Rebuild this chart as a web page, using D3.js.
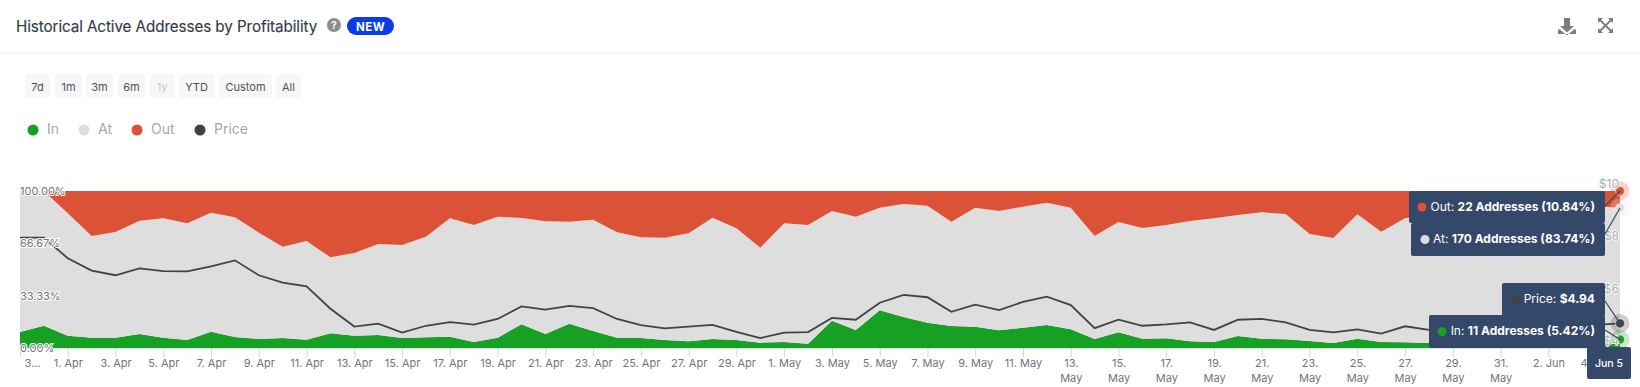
<!DOCTYPE html>
<html>
<head>
<meta charset="utf-8">
<script src="https://cdn.jsdelivr.net/npm/d3@7"></script>
<style>
  html, body { margin: 0; padding: 0; background: #fff; overflow: hidden; }
  svg { display: block; font-family: Inter, "Noto Sans", sans-serif; }
</style>
</head>
<body>
<div id="chart"></div>
<script>
// values, one entry per day from 30 Mar to 5 Jun
const inPct = [10.19,14.23,7.86,6.58,6.58,8.92,6.58,5.10,10.40,7.01,5.73,6.37,5.31,9.34,7.86,8.28,6.37,6.79,7.22,3.82,6.58,15.07,8.92,15.50,10.83,6.58,6.37,5.10,4.25,5.73,5.10,3.40,3.82,2.76,17.41,11.46,23.99,19.75,16.14,14.01,13.59,11.25,12.95,14.65,11.89,5.73,9.98,5.94,6.16,4.25,3.82,7.64,5.94,5.52,4.46,3.18,5.94,3.82,3.61,3.18,2.97,2.76,2.97,2.97,3.18,3.40,3.82,5.42]
const atPct = [89.81,85.77,77.91,64.76,67.31,72.18,76.01,74.31,75.80,76.22,67.73,58.17,62.84,48.41,52.65,57.96,59.24,64.12,75.37,74.52,77.07,67.73,71.76,64.97,70.91,67.09,64.12,65.18,68.79,77.28,71.12,60.51,75.59,75.58,69.85,72.19,65.39,71.97,74.52,66.46,75.79,76.01,77.07,77.92,77.49,65.61,70.27,70.49,72.18,76.64,78.77,77.07,80.47,79.83,68.15,66.88,79.20,70.28,78.98,81.53,83.23,83.01,83.87,84.93,82.59,83.44,86.63,83.74]
const outPct = [0,0,14.23,28.66,26.11,18.90,17.41,20.59,13.80,16.77,26.54,35.46,31.85,42.25,39.49,33.76,34.39,29.09,17.41,21.66,16.35,17.20,19.32,19.53,18.26,26.33,29.51,29.72,26.96,16.99,23.78,36.09,20.59,21.66,12.74,16.35,10.62,8.28,9.34,19.53,10.62,12.74,9.98,7.43,10.62,28.66,19.75,23.57,21.66,19.11,17.41,15.29,13.59,14.65,27.39,29.94,14.86,25.90,17.41,15.29,13.80,14.23,13.16,12.10,14.23,13.16,9.55,10.84]
const price = [8.22,8.22,7.43,6.96,6.78,7.04,6.94,6.93,7.12,7.35,6.78,6.50,6.36,5.50,4.82,4.93,4.59,4.85,4.99,4.89,5.11,5.59,5.47,5.61,5.52,5.11,4.87,4.75,4.82,4.88,4.62,4.38,4.59,4.61,5.15,5.08,5.73,6.03,5.94,5.38,5.66,5.45,5.76,5.96,5.64,4.76,5.08,4.85,4.90,4.98,4.69,5.08,5.11,4.98,4.69,4.60,4.71,4.55,4.83,4.69,4.61,4.56,4.59,4.69,4.71,4.79,4.88,4.94]

const tickDays = ['03-30','04-01','04-03','04-05','04-07','04-09','04-11','04-13','04-15','04-17','04-19','04-21','04-23','04-25','04-27','04-29','05-01','05-03','05-05','05-07','05-09','05-11','05-13','05-15','05-17','05-19','05-21','05-23','05-25','05-27','05-29','05-31','06-02','06-04']
const tickLabels = ['3...','1. Apr','3. Apr','5. Apr','7. Apr','9. Apr','11. Apr','13. Apr','15. Apr','17. Apr','19. Apr','21. Apr','23. Apr','25. Apr','27. Apr','29. Apr','1. May','3. May','5. May','7. May','9. May','11. May','13.|May','15.|May','17.|May','19.|May','21.|May','23.|May','25.|May','27.|May','29.|May','31.|May','2. Jun','4. Jun']
const pctTicks = [0, 33.33, 66.67, 100]
const priceTicks = [4, 6, 8, 10]
const rangeButtons = ['7d','1m','3m','6m','1y','YTD','Custom','All']
const legendNames = ['In','At','Out','Price']

const colors = {In: '#16a024', At: '#dedede', Out: '#db5237', Price: '#3f4347'}
const tipColor = '#34496a'

let width = 1640, height = 387
let margin = {top: 191, right: 20, bottom: 39, left: 20}
let innerBottom = height - margin.bottom
let innerRight = width - margin.right

const svg = d3.select('#chart').append('svg')
  .attr('width', width)
  .attr('height', height)

let parseDay = d3.utcParse('%Y-%m-%d')
let dates = d3.utcDay.range(parseDay('2024-03-30'), parseDay('2024-06-06'))

let xScale = d3.scaleUtc().domain(d3.extent(dates)).range([margin.left, innerRight])
let yScale = d3.scaleLinear().domain([0, 100]).range([innerBottom, margin.top])
let priceScale = d3.scaleLinear().domain([4, 10]).range([innerBottom, margin.top])

// header
svg.append('text').attr('x', 16).attr('y', 32)
  .attr('font-size', 15.2).attr('fill', '#333c47').attr('font-weight', 400)
  .attr('letter-spacing', -0.08).attr('stroke', '#333c47').attr('stroke-width', 0.15)
  .text('Historical Active Addresses by Profitability')
svg.append('circle').attr('cx', 334).attr('cy', 25).attr('r', 7).attr('fill', '#8c8c8c')
svg.append('text').attr('x', 334).attr('y', 29).attr('text-anchor', 'middle')
  .attr('font-size', 10.5).attr('font-weight', 700).attr('fill', '#fff').text('?')
svg.append('rect').attr('x', 347).attr('y', 17).attr('width', 47).attr('height', 18).attr('rx', 9).attr('fill', '#0a3ce8')
svg.append('text').attr('x', 370.5).attr('y', 30.5).attr('text-anchor', 'middle')
  .attr('font-size', 11.5).attr('font-weight', 700).attr('letter-spacing', 0.5).attr('fill', '#fff').text('NEW')
svg.append('line').attr('x1', 0).attr('x2', width).attr('y1', 53).attr('y2', 53).attr('stroke', '#e9e9e9')

// download + fullscreen icons
svg.append('path').attr('fill', '#7d7d7d')
  .attr('d', 'M1564 18h6v8h4l-7 6.5-7-6.5h4zM1560 29.500l7 6 7-6h2v4.500h-18v-4.500z')
let expand = svg.append('g').attr('stroke', '#7d7d7d').attr('stroke-width', 1.8).attr('fill', 'none')
expand.append('path').attr('d', 'M1600 20l11 11M1611 20l-11 11')
svg.append('path').attr('fill', '#7d7d7d')
  .attr('d', 'M1598 18h5l-5 5zM1613 18v5l-5-5zM1598 33v-5l5 5zM1613 33h-5l5-5z')

// range buttons
let btnX = [25, 55, 86, 118, 150, 179, 219, 276]
let btnW = [25, 27, 27, 27, 24, 35, 53, 25]
const btn = svg.selectAll('.btn').data(rangeButtons).enter().append('g').attr('class', 'btn')
btn.append('rect')
  .attr('x', (d, i) => btnX[i]).attr('y', 74).attr('width', (d, i) => btnW[i]).attr('height', 24)
  .attr('rx', 3).attr('fill', '#f7f7f7')
btn.append('text')
  .attr('x', (d, i) => btnX[i] + btnW[i] / 2).attr('y', 91).attr('text-anchor', 'middle')
  .attr('font-size', 11).attr('fill', d => d == '1y' ? '#c9c9c9' : '#4d535a').text(d => d)

// legend
let legX = [33, 84, 137, 200]
const leg = svg.selectAll('.leg').data(legendNames).enter().append('g').attr('class', 'leg')
leg.append('circle').attr('cx', (d, i) => legX[i]).attr('cy', 130).attr('r', 5.5).attr('fill', d => colors[d])
leg.append('text').attr('x', (d, i) => legX[i] + 14).attr('y', 134).attr('font-size', 14).attr('fill', '#a3a7ab').text(d => d)

// stacked areas
let rows = dates.map((d, i) => ({date: d, In: inPct[i], At: atPct[i], Out: outPct[i]}))
let stacked = d3.stack().keys(['In', 'At', 'Out'])(rows)
let area = d3.area().x(d => xScale(d.data.date)).y0(d => yScale(d[0])).y1(d => yScale(d[1]))

svg.selectAll('.layer').data(stacked).enter().append('path')
  .attr('class', 'layer')
  .attr('fill', d => colors[d.key])
  .attr('d', area)

// price line
let priceLine = d3.line().x((d, i) => xScale(dates[i])).y(d => priceScale(d))
svg.append('path').datum(price)
  .attr('fill', 'none').attr('stroke', colors.Price).attr('stroke-width', 1.8)
  .attr('d', priceLine)

// x axis
let xAxis = d3.axisBottom(xScale)
  .tickValues(tickDays.map(d => parseDay('2024-' + d)))
  .tickSize(9).tickPadding(0)
  .tickFormat((d, i) => tickLabels[i])
let gXAxis = svg.append('g').attr('transform', `translate(0,${innerBottom})`).call(xAxis)
gXAxis.select('.domain').attr('stroke', '#e3e3e3')
gXAxis.selectAll('.tick line').attr('stroke', '#d5d5d5')
gXAxis.selectAll('.tick text').each(function (d, i) {
  let parts = tickLabels[i].split('|')
  let t = d3.select(this).text(null)
    .attr('font-family', 'Inter, "Noto Sans", sans-serif')
    .attr('font-size', 11).attr('fill', '#6f757b')
  t.attr('y', 19)
  parts.forEach((p, j) => t.append('tspan').attr('x', i == 0 ? 12 : 0).attr('dy', j ? 14.5 : 0).text(p))
})

// y labels, with the white outline the picture has
svg.selectAll('.pct').data(pctTicks).enter().append('text')
  .attr('x', 20).attr('y', d => yScale(d) + 4)
  .attr('font-size', 11).attr('fill', '#6f757b')
  .attr('stroke', '#fff').attr('stroke-width', 2).attr('paint-order', 'stroke')
  .text(d => d.toFixed(2) + '%')

// hover markers on the last day
let last = dates.length - 1
let lastX = xScale(dates[last])
let markers = [
  {key: 'Out', y: yScale(100), tipY: 206},
  {key: 'At', y: yScale(inPct[last] + atPct[last]), tipY: 234},
  {key: 'Price', y: priceScale(price[last]), tipY: 301},
  {key: 'In', y: yScale(inPct[last]), tipY: 330}
]
markers.forEach(m => {
  svg.append('circle').attr('cx', lastX).attr('cy', m.y).attr('r', 9.500)
    .attr('fill', m.key == 'At' ? '#e8e8e8' : colors[m.key]).attr('opacity', 0.25)
  svg.append('circle').attr('cx', lastX).attr('cy', m.y).attr('r', 4.500)
    .attr('fill', colors[m.key]).attr('stroke', '#fff').attr('stroke-width', 0.5)
})

svg.selectAll('.usd').data(priceTicks).enter().append('text')
  .attr('x', 1619).attr('y', d => priceScale(d) - 3).attr('text-anchor', 'end')
  .attr('font-size', 12).attr('fill', '#a9adb1')
  .attr('stroke', '#fff').attr('stroke-width', 1.5).attr('paint-order', 'stroke')
  .text(d => '$' + d)

markers.forEach(m => {
  svg.append('line').attr('x1', 1605).attr('y1', m.tipY).attr('x2', lastX).attr('y2', m.y)
    .attr('stroke', tipColor).attr('stroke-width', 1.2)
})

// tooltips
let tips = [
  {x: 1409, y: 191, w: 196, h: 32, dot: colors.Out, dotX: 1422, label: 'Out: ', val: '22 Addresses (10.84%)'},
  {x: 1411, y: 223, w: 194, h: 33, dot: colors.At, dotX: 1425, label: 'At: ', val: '170 Addresses (83.74%)'},
  {x: 1502, y: 283, w: 103, h: 33, dot: colors.Price, dotX: 1516, label: 'Price: ', val: '$4.94'},
  {x: 1429, y: 315, w: 176, h: 33, dot: colors.In, dotX: 1442, label: 'In: ', val: '11 Addresses (5.42%)'}
]
tips.forEach(t => {
  svg.append('rect').attr('x', t.x).attr('y', t.y).attr('width', t.w).attr('height', t.h).attr('rx', 2).attr('fill', tipColor)
  svg.append('circle').attr('cx', t.dotX).attr('cy', t.y + t.h / 2).attr('r', 4.5).attr('fill', t.dot)
  let txt = svg.append('text').attr('x', t.x + t.w - 10).attr('y', t.y + t.h / 2 + 3.5)
    .attr('text-anchor', 'end').attr('font-size', 12).attr('fill', '#fff')
  txt.append('tspan').text(t.label)
  txt.append('tspan').attr('font-weight', 700).text(t.val)
})
svg.append('rect').attr('x', 1587).attr('y', 347).attr('width', 44).attr('height', 32).attr('rx', 2).attr('fill', tipColor)
svg.append('text').attr('x', 1609).attr('y', 367).attr('text-anchor', 'middle')
  .attr('font-size', 10.5).attr('font-weight', 500).attr('fill', '#fff').text('Jun 5')
</script>
</body>
</html>
